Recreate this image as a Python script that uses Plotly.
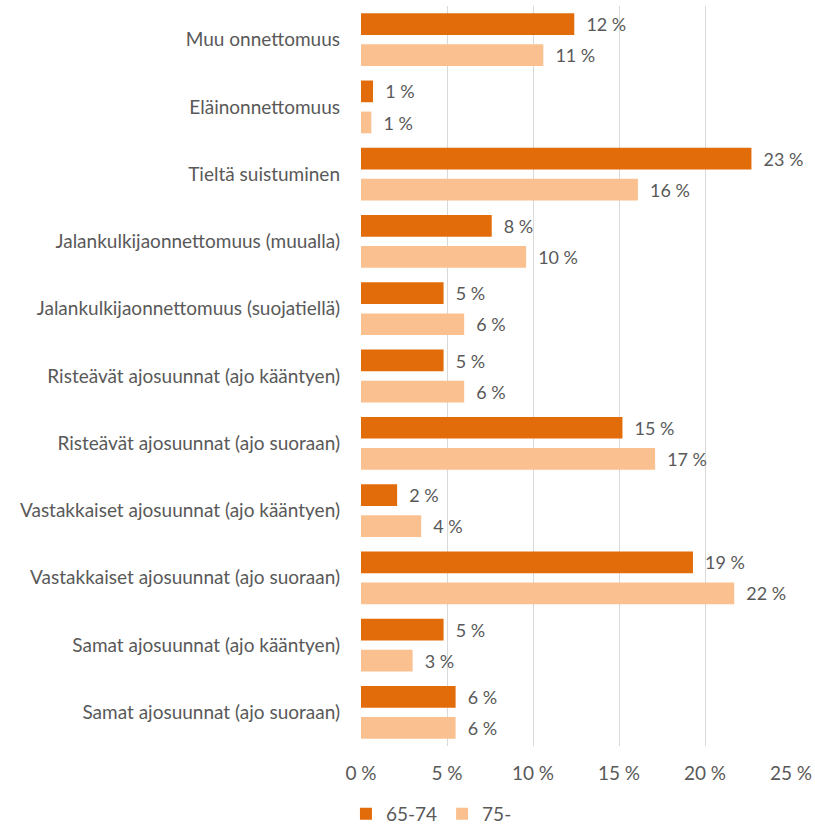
import plotly.graph_objects as go

categories = [
    "Muu onnettomuus",
    "Eläinonnettomuus",
    "Tieltä suistuminen",
    "Jalankulkijaonnettomuus (muualla)",
    "Jalankulkijaonnettomuus (suojatiellä)",
    "Risteävät ajosuunnat (ajo kääntyen)",
    "Risteävät ajosuunnat (ajo suoraan)",
    "Vastakkaiset ajosuunnat (ajo kääntyen)",
    "Vastakkaiset ajosuunnat (ajo suoraan)",
    "Samat ajosuunnat (ajo kääntyen)",
    "Samat ajosuunnat (ajo suoraan)",
]
vals_65_74 = [12.4, 0.7, 22.7, 7.6, 4.8, 4.8, 15.2, 2.1, 19.3, 4.8, 5.5]
vals_75 = [10.6, 0.6, 16.1, 9.6, 6.0, 6.0, 17.1, 3.5, 21.7, 3.0, 5.5]
series_names = ["65-74", "75-"]
tick_vals = [0, 5, 10, 15, 20, 25]
tick_text = ["0 %", "5 %", "10 %", "15 %", "20 %", "25 %"]

FONT = "Lato"
GRAY = "#595959"
FS = 19

def fmt(v):
    return "\u00a0\u2009\u2009" + f"{int(v + 0.5)} %"

fig = go.Figure()
for name, vals, color in [(series_names[0], vals_65_74, "#E36C0A"),
                          (series_names[1], vals_75, "#FAC090")]:
    fig.add_trace(go.Bar(
        y=categories, x=vals, name=name, orientation="h",
        marker=dict(color=color, line=dict(width=0)),
        text=[fmt(v) for v in vals],
        textposition="outside", cliponaxis=False,
        textfont=dict(family=FONT, size=FS, color=GRAY),
        hoverinfo="skip",
    ))

fig.update_layout(
    width=815, height=827,
    margin=dict(l=361, r=24, t=6, b=81, autoexpand=False),
    plot_bgcolor="white", paper_bgcolor="white",
    barmode="group", bargap=0.077, bargroupgap=0.3,
    font=dict(family=FONT, size=FS, color=GRAY),
    showlegend=True,
    legend=dict(orientation="h", x=-0.035, y=-0.066, xanchor="left", yanchor="top",
                font=dict(family=FONT, size=FS, color=GRAY), traceorder="normal",
                itemwidth=30),
    xaxis=dict(range=[0, 25.0], tickvals=tick_vals, ticktext=tick_text,
               showgrid=True, gridcolor="#D9D9D9", gridwidth=1,
               zeroline=False, showline=False, ticks="", ticklabelstandoff=14,
               automargin=False,
               tickfont=dict(family=FONT, size=FS, color=GRAY)),
    yaxis=dict(categoryorder="array", categoryarray=categories, autorange="reversed",
               showgrid=False, zeroline=False, showline=False, ticks="",
               ticklabelstandoff=20, automargin=False,
               tickfont=dict(family=FONT, size=FS, color=GRAY)),
)
fig.write_html("out.html", include_plotlyjs=True,
               config={"displayModeBar": False},
               post_script="document.body.style.margin='0';")
